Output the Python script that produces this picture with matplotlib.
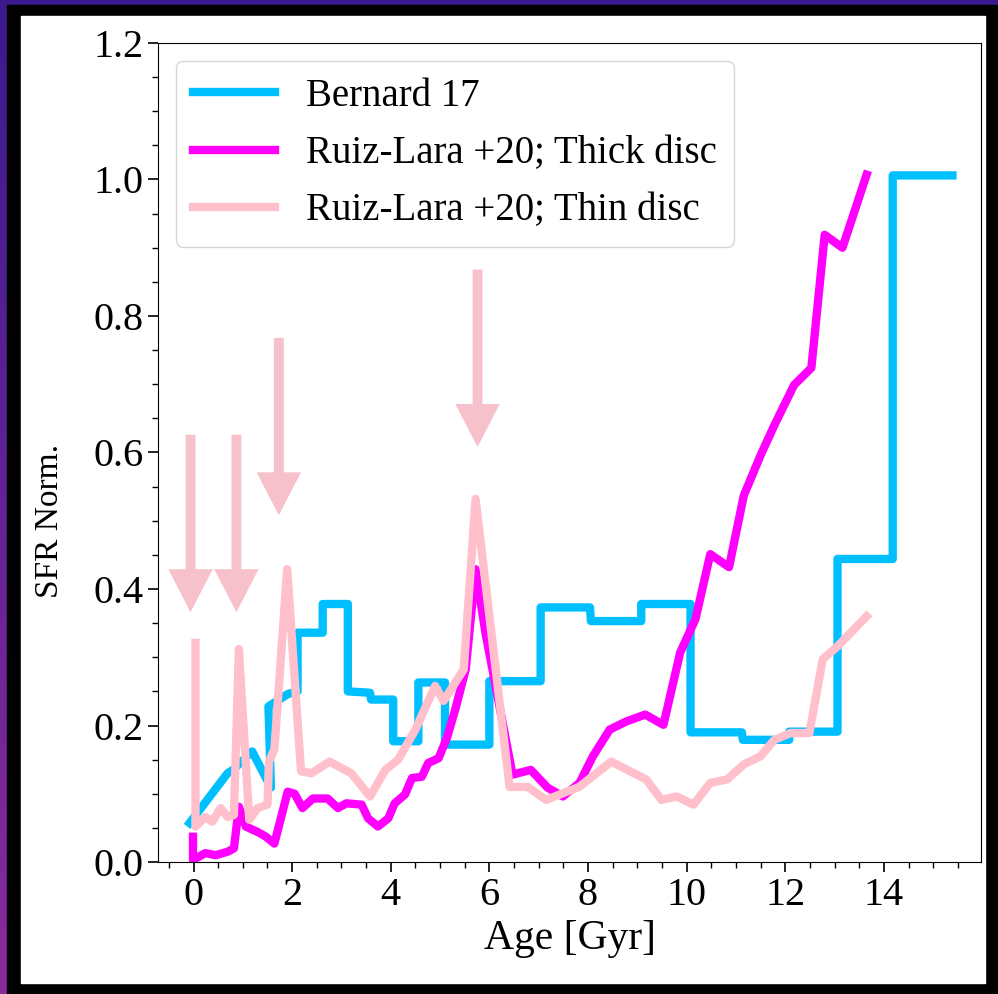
import numpy as np
import matplotlib
matplotlib.use("Agg")
import matplotlib.pyplot as plt
from matplotlib.patches import Rectangle
from matplotlib.ticker import MultipleLocator

plt.rcParams['font.family'] = ['Liberation Serif', 'DejaVu Serif']
plt.rcParams['mathtext.fontset'] = 'stix'

# Bernard 17 SFH (step-like curve)
bernard_age = [-0.08, 0.69, 0.80, 1.19, 1.57, 1.52, 1.91, 2.11, 2.11, 2.62, 2.62, 3.13, 3.13,
               3.58, 3.60, 4.05, 4.05, 4.56, 4.56, 5.10, 5.10, 6.00, 6.00, 7.04, 7.04,
               8.04, 8.06, 9.08, 9.08, 10.08, 10.08, 11.12, 11.14, 12.08, 12.08, 13.06,
               13.06, 14.18, 14.18, 15.39]
bernard_sfr = [0.057, 0.130, 0.135, 0.162, 0.109, 0.228, 0.246, 0.250, 0.336, 0.336, 0.378,
               0.378, 0.250, 0.248, 0.238, 0.238, 0.177, 0.177, 0.263, 0.263, 0.172, 0.172,
               0.265, 0.265, 0.373, 0.373, 0.353, 0.353, 0.378, 0.378, 0.190, 0.190, 0.179,
               0.179, 0.191, 0.191, 0.444, 0.444, 1.006, 1.006]

# Ruiz-Lara +20, thick disc
thick_age = [-0.01, -0.01, 0.24, 0.45, 0.69, 0.82, 0.92, 1.06, 1.30, 1.47, 1.64, 1.91, 2.05,
             2.21, 2.42, 2.72, 2.93, 3.10, 3.41, 3.54, 3.74, 3.95, 4.08, 4.29, 4.43, 4.63,
             4.76, 4.97, 5.14, 5.31, 5.52, 5.72, 5.92, 6.47, 6.84, 7.18, 7.49, 7.83, 8.10,
             8.44, 8.78, 9.16, 9.53, 9.87, 10.18, 10.48, 10.86, 11.16, 11.50, 11.78, 12.18,
             12.53, 12.80, 13.16, 13.65]
thick_sfr = [0.037, 0.003, 0.013, 0.010, 0.015, 0.020, 0.081, 0.052, 0.044, 0.037, 0.027,
             0.103, 0.100, 0.079, 0.093, 0.093, 0.079, 0.086, 0.084, 0.064, 0.052, 0.064,
             0.086, 0.099, 0.123, 0.125, 0.145, 0.152, 0.182, 0.224, 0.282, 0.429, 0.336,
             0.128, 0.135, 0.109, 0.096, 0.116, 0.155, 0.194, 0.206, 0.216, 0.201, 0.307,
             0.356, 0.451, 0.432, 0.537, 0.596, 0.640, 0.699, 0.724, 0.919, 0.900, 1.007]

# Ruiz-Lara +20, thin disc
thin_age = [0.04, 0.04, 0.24, 0.38, 0.55, 0.69, 0.82, 0.92, 1.13, 1.30, 1.50, 1.53, 1.64,
            1.90, 2.18, 2.39, 2.76, 3.20, 3.58, 3.89, 4.15, 4.50, 4.90, 5.07, 5.48, 5.72,
            6.41, 6.78, 7.15, 7.82, 8.47, 9.18, 9.49, 9.80, 10.14, 10.48, 10.82, 11.16,
            11.50, 11.78, 12.11, 12.49, 12.76, 13.06, 13.65]
thin_sfr = [0.321, 0.052, 0.066, 0.059, 0.079, 0.066, 0.069, 0.312, 0.062, 0.079, 0.084,
            0.147, 0.165, 0.429, 0.133, 0.130, 0.147, 0.130, 0.096, 0.135, 0.150, 0.194,
            0.258, 0.236, 0.282, 0.532, 0.110, 0.110, 0.091, 0.110, 0.147, 0.121, 0.091,
            0.096, 0.084, 0.116, 0.121, 0.143, 0.155, 0.179, 0.189, 0.189, 0.297, 0.316,
            0.360]

# arrows marking the thin disc bursts
arrow_age = [-0.06, 0.87, 1.73, 5.76]
arrow_top = [0.626, 0.626, 0.768, 0.868]
arrow_len = 0.26

fig = plt.figure(figsize=(9.98, 9.94), dpi=100)
fig.patch.set_facecolor('black')

# purple gradient edge behind the black frame
bg = fig.add_axes([0, 0, 1, 1], zorder=-10)
grad = np.linspace(0, 1, 256).reshape(-1, 1)
bg.imshow(grad, aspect='auto', extent=[0, 1, 0, 1],
          cmap=matplotlib.colors.LinearSegmentedColormap.from_list('edge', ['#3a1a8e', '#8a2a9c']))
bg.add_patch(Rectangle((7 / 998, 0), 1, 989 / 994, color='black', transform=bg.transAxes))
bg.add_patch(Rectangle((21 / 998, 11 / 994), 964 / 998, 967 / 994, color='white',
                       transform=bg.transAxes))
bg.set_xlim(0, 1)
bg.set_ylim(0, 1)
bg.axis('off')

ax = fig.add_axes([158 / 998, 1 - 862 / 994, 823 / 998, 819 / 994])

ax.plot(bernard_age, bernard_sfr, color='deepskyblue', lw=6, label='Bernard 17')
ax.plot(thick_age, thick_sfr, color='magenta', lw=6, label='Ruiz-Lara +20; Thick disc')
ax.plot(thin_age, thin_sfr, color='pink', lw=6, label='Ruiz-Lara +20; Thin disc')

for xa, ya in zip(arrow_age, arrow_top):
    ax.arrow(xa, ya, 0, -arrow_len, width=0.2, head_width=0.9, head_length=0.063,
             length_includes_head=True, color='#f6c1cb', lw=0)

ax.set_xlim(-0.72, 15.97)
ax.set_ylim(0, 1.2)
ax.xaxis.set_major_locator(MultipleLocator(2))
ax.xaxis.set_minor_locator(MultipleLocator(0.5))
ax.yaxis.set_major_locator(MultipleLocator(0.2))
ax.yaxis.set_minor_locator(MultipleLocator(0.05))
ax.tick_params(which='major', labelsize=29, length=7, width=1.2)
ax.tick_params(which='minor', length=4, width=1.0)
ax.set_xlabel('Age [Gyr]', fontsize=30, labelpad=4)
ax.set_ylabel('SFR Norm.', fontsize=24, labelpad=20, y=0.416)

ax.legend(loc='upper left', fontsize=28, handlelength=2.1, borderpad=0.45,
          labelspacing=0.52, borderaxespad=0.45)

fig.savefig('out.png', dpi=100, facecolor=fig.get_facecolor())
